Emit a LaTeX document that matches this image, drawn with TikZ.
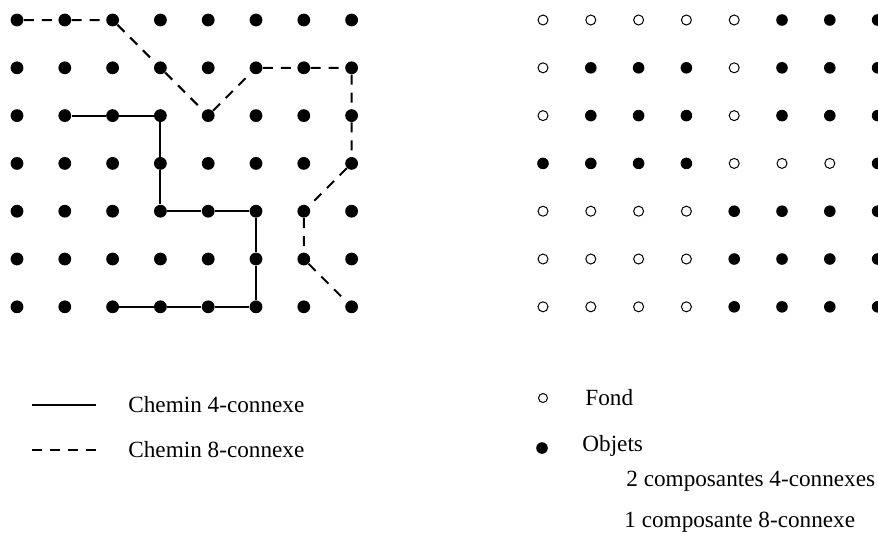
\documentclass[tikz,border=0pt]{standalone}
\usepackage{fontspec}
\setmainfont{Liberation Serif}
\usetikzlibrary{positioning}
\begin{document}
\begin{tikzpicture}[x=0.5pt,y=-0.5pt,font=\fontsize{11.6}{14}\selectfont]
\tikzset{dot/.style={circle,fill=black,inner sep=0pt,minimum size=6.4pt},
  pixo/.style={circle,fill=black,inner sep=0pt,minimum size=5.8pt},
  pixh/.style={circle,draw=black,fill=white,line width=0.5pt,inner sep=0pt,minimum size=5pt},
  four/.style={line width=1pt},
  eight/.style={line width=1pt,dash pattern=on 5pt off 4pt},
  lbl/.style={anchor=west,inner sep=0pt}}
\useasboundingbox (0,0) rectangle (878,537);
% grille de gauche
\foreach \r in {1,...,7}
  \foreach \c in {1,...,8}
    \node[dot] (L-\c-\r) at ({17+47.8*(\c-1)},{20+47.8*(\r-1)}) {};
\draw[eight] (L-1-1)--(L-2-1)--(L-3-1)--(L-4-2)--(L-5-3)--(L-6-2)--(L-7-2)--(L-8-2)
  --(L-8-3)--(L-8-4)--(L-7-5)--(L-7-6)--(L-8-7);
\draw[four] (L-2-3)--(L-3-3)--(L-4-3)--(L-4-4)--(L-4-5)--(L-5-5)--(L-6-5)--(L-6-6)
  --(L-6-7)--(L-5-7)--(L-4-7)--(L-3-7);
% grille de droite (h = fond, o = objet)
\foreach \ligne [count=\r] in {{h,h,h,h,h,o,o,o},{h,o,o,o,h,o,o,o},{h,o,o,o,h,o,o,o},
    {o,o,o,o,h,h,h,o},{h,h,h,h,o,o,o,o},{h,h,h,h,o,o,o,o},{h,h,h,h,o,o,o,o}}
  \foreach \v [count=\c] in \ligne
    \node[pix\v] (R-\c-\r) at ({543+47.8*(\c-1)},{20+47.8*(\r-1)}) {};
% legendes
\coordinate (s1) at (32,405);
\coordinate (s2) at (96,405);
\draw[four] (s1)--(s2);
\node[lbl,right=16pt of s2] (t4) {Chemin 4-connexe};
\coordinate (d1) at (32,450);
\coordinate (d2) at (96,450);
\draw[eight] (d1)--(d2);
\node[lbl,right=16pt of d2] (t8) {Chemin 8-connexe};
\node[pixh,minimum size=4.5pt] (kf) at (543,398) {};
\node[lbl] (fond) at (585,398) {Fond};
\node[pixo] (ko) at (542,448) {};
\node[lbl] (obj) at (582,446) {Objets};
\node[lbl] (c4) at (626,481) {2 composantes 4-connexes};
\node[lbl] (c8) at (624,522) {1 composante 8-connexe};
\end{tikzpicture}
\end{document}
